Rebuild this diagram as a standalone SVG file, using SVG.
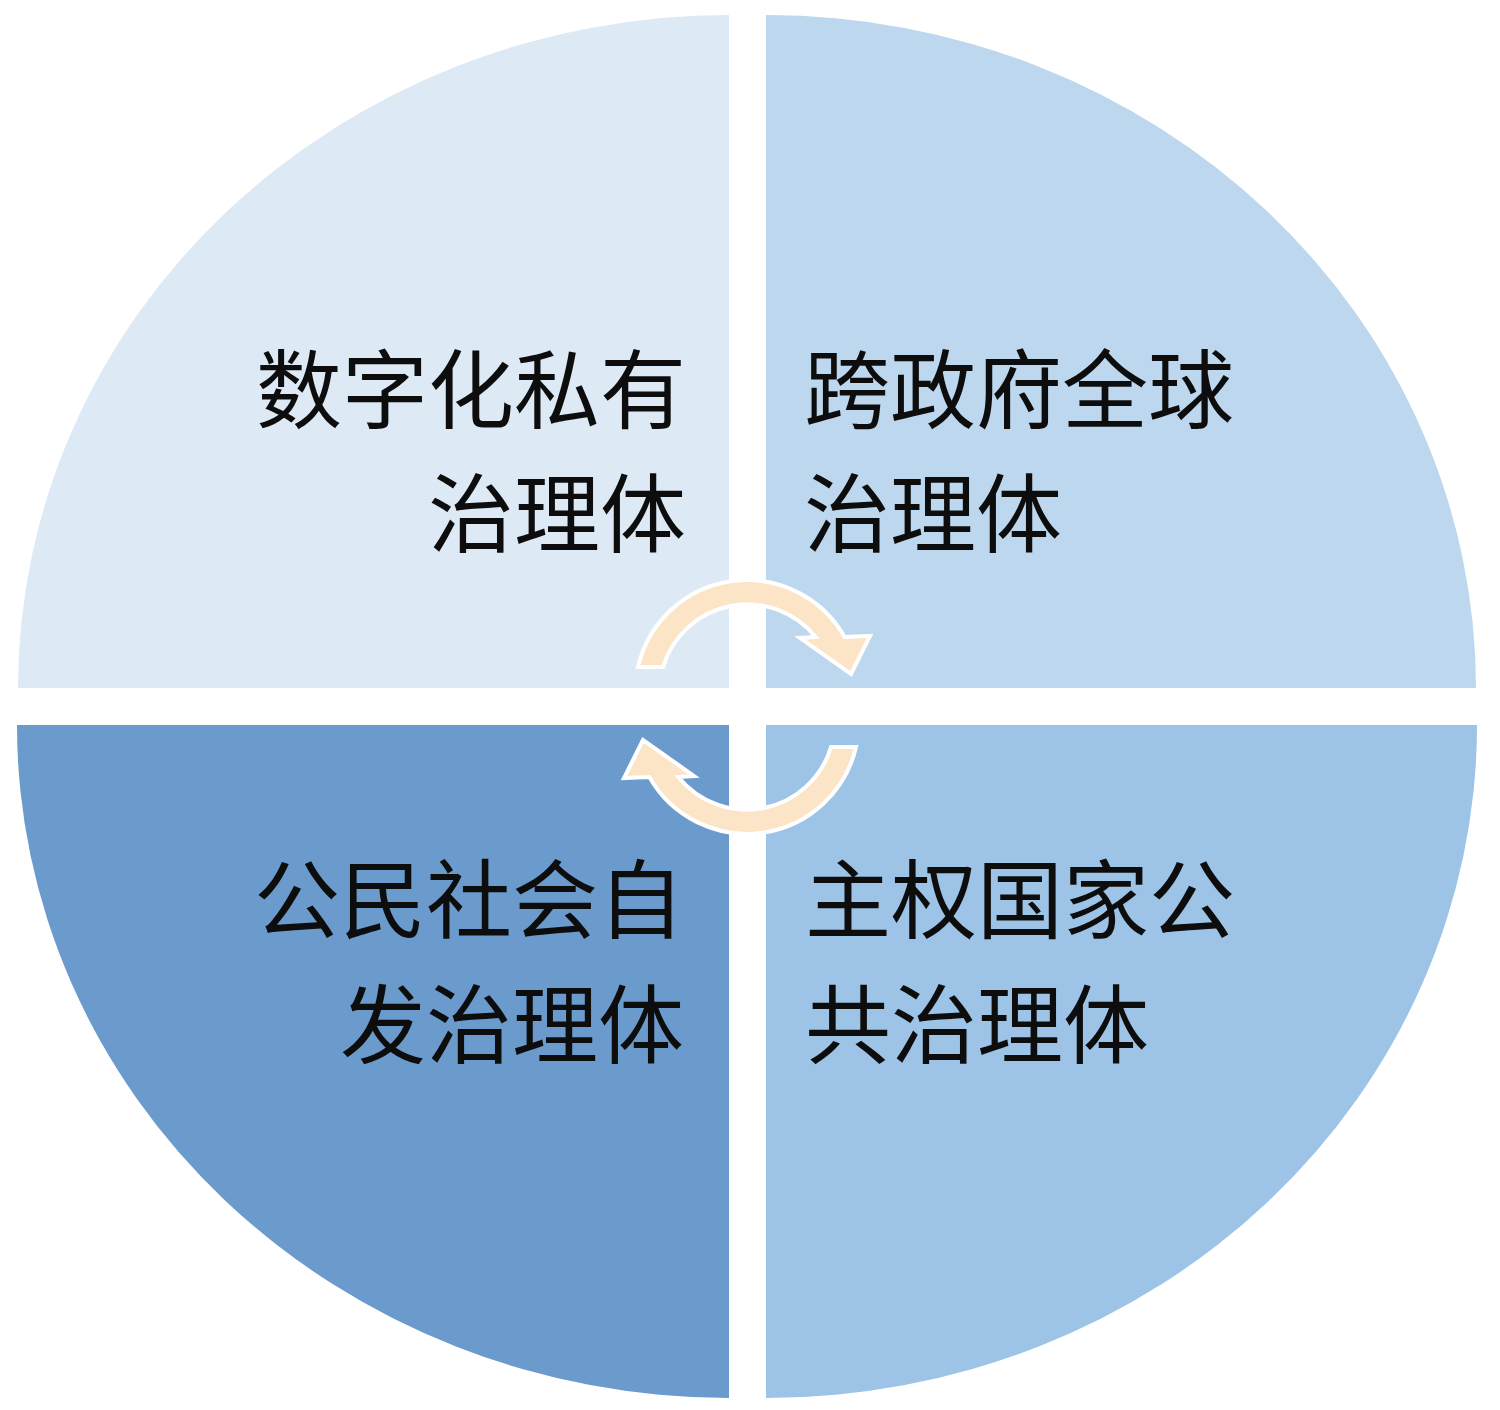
<svg xmlns="http://www.w3.org/2000/svg" width="1500" height="1410" viewBox="0 0 1500 1410">
<style>
.lbl{font-family:"Noto Sans CJK SC","Noto Sans CJK TC",sans-serif;font-size:86px;fill:#0d0d0d}
.arrow{fill:#fce4c6;stroke:#ffffff;stroke-width:4;stroke-linejoin:miter}
</style>
<rect width="1500" height="1410" fill="#ffffff"/>
<g id="q-tl">
<path d="M729,688 L18,688 A711,673 0 0 1 729,15 Z" fill="#ddeaf6"/>
<text class="lbl" text-anchor="end"><tspan x="686" y="422">数字化私有</tspan><tspan x="686" y="546">治理体</tspan></text>
</g>
<g id="q-tr">
<path d="M766,688 L766,15 A710,673 0 0 1 1476,688 Z" fill="#bdd7ee"/>
<text class="lbl"><tspan x="804" y="422">跨政府全球</tspan><tspan x="804" y="546">治理体</tspan></text>
</g>
<g id="q-bl">
<path d="M729,725 L729,1398 A712,673 0 0 1 17,725 Z" fill="#6a9bcc"/>
<text class="lbl" text-anchor="end"><tspan x="684" y="932">公民社会自</tspan><tspan x="684" y="1057">发治理体</tspan></text>
</g>
<g id="q-br">
<path d="M766,725 L1477,725 A711,673 0 0 1 766,1398 Z" fill="#9dc3e6"/>
<text class="lbl"><tspan x="805" y="932">主权国家公</tspan><tspan x="805" y="1057">共治理体</tspan></text>
</g>
<g id="connectors">
<path id="arrow-top" class="arrow" d="M638,667 A112,112 0 0 1 844.6,637 L870,636 L851,674 L800,638 L815.7,637 A88,88 0 0 0 663,667 Z"/>
<path id="arrow-bottom" class="arrow" transform="rotate(180 747 707)" d="M638,667 A112,112 0 0 1 844.6,637 L870,636 L851,674 L800,638 L815.7,637 A88,88 0 0 0 663,667 Z"/>
</g>
</svg>
